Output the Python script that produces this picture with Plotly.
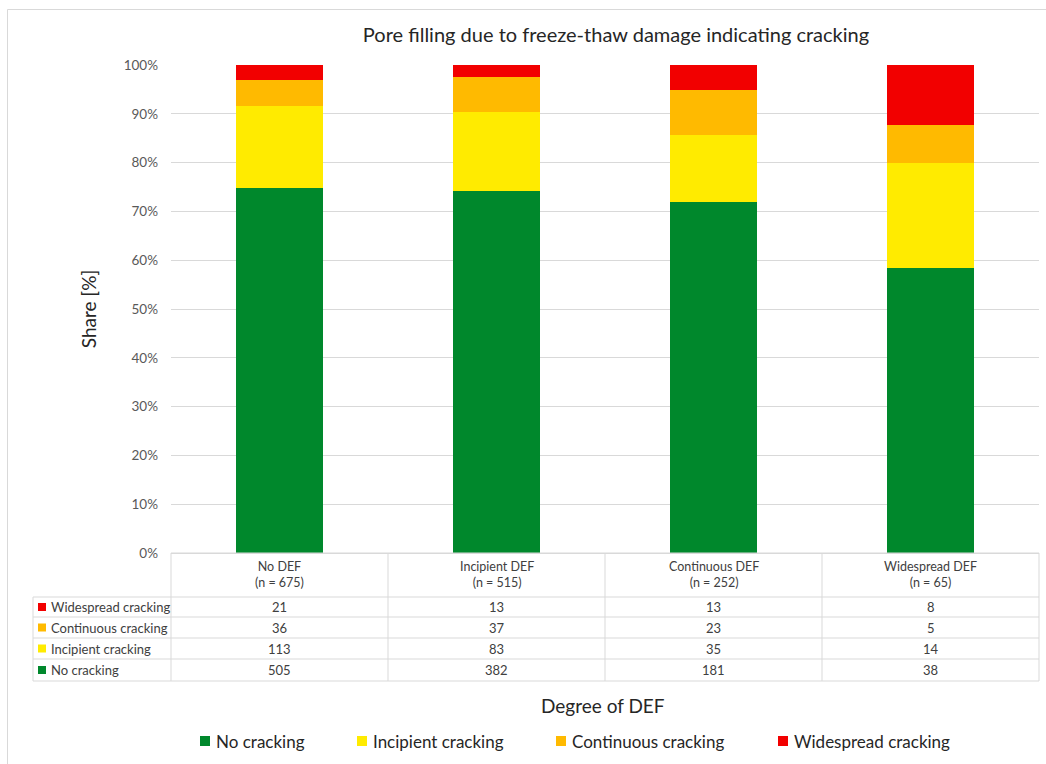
import plotly.graph_objects as go

categories = ["No DEF", "Incipient DEF", "Continuous DEF", "Widespread DEF"]
series_names = ["No cracking", "Incipient cracking", "Continuous cracking", "Widespread cracking"]
no_cracking = [505, 382, 181, 38]
incipient_cracking = [113, 83, 35, 14]
continuous_cracking = [36, 37, 23, 5]
widespread_cracking = [21, 13, 13, 8]
colors = ["#00882C", "#FFEB00", "#FFBA00", "#F20000"]
y_ticks = [0, 10, 20, 30, 40, 50, 60, 70, 80, 90, 100]
y_tick_labels = [f"{v}%" for v in y_ticks]

series_values = [no_cracking, incipient_cracking, continuous_cracking, widespread_cracking]
totals = [sum(v) for v in zip(*series_values)]

W, H = 1046, 764
L, R, T, B = 171, 7, 65, 211
PW = W - L - R
PH = H - T - B
FONT = "Lato"
GRID = "#d9d9d9"
DARK = "#262626"
TXT = "#404040"

def px2x(px):
    return (px - L) / PW

def py2y(py):
    return (H - B - py) / PH

fig = go.Figure()
for name, vals, col in zip(series_names, series_values, colors):
    fig.add_trace(go.Bar(x=categories, y=vals, name=name, marker=dict(color=col, line=dict(width=0)),
                         width=0.4, showlegend=False))

shapes = []
annotations = []

# chart border (cropped by the picture edge)
shapes.append(dict(type="rect", xref="paper", yref="paper", x0=px2x(7.5), x1=px2x(1060), y0=py2y(9.5), y1=py2y(780),
                   line=dict(color="#d9d9d9", width=1), fillcolor="rgba(0,0,0,0)", layer="below"))

# data table grid
col_edges = [171, 388, 605, 822, 1039]
row_edges = [553, 597, 617, 638, 659, 681]
tbl_left = 33
for i, ry in enumerate(row_edges):
    x0 = 171 if i == 0 else tbl_left
    shapes.append(dict(type="line", xref="paper", yref="paper", x0=px2x(x0), x1=px2x(1039),
                       y0=py2y(ry), y1=py2y(ry), line=dict(color=GRID, width=1)))
for cx in col_edges:
    shapes.append(dict(type="line", xref="paper", yref="paper", x0=px2x(cx), x1=px2x(cx),
                       y0=py2y(553), y1=py2y(681), line=dict(color=GRID, width=1)))
shapes.append(dict(type="line", xref="paper", yref="paper", x0=px2x(tbl_left), x1=px2x(tbl_left),
                   y0=py2y(597), y1=py2y(681), line=dict(color=GRID, width=1)))

for j, (cat, n) in enumerate(zip(categories, totals)):
    cxm = (col_edges[j] + col_edges[j + 1]) / 2
    annotations.append(dict(x=px2x(cxm), y=py2y(574), xref="paper", yref="paper",
                            xanchor="center", yanchor="middle",
                            text=f"{cat}<br>(n = {n})", showarrow=False,
                            font=dict(family=FONT, size=12.5, color=TXT), align="center"))

row_order = [3, 2, 1, 0]
for r, si in enumerate(row_order):
    ym = (row_edges[r + 1] + row_edges[r + 2]) / 2
    shapes.append(dict(type="rect", xref="paper", yref="paper", x0=px2x(38), x1=px2x(46),
                       y0=py2y(ym - 4), y1=py2y(ym + 4), fillcolor=colors[si], line=dict(width=0)))
    annotations.append(dict(x=px2x(49), y=py2y(ym), xref="paper", yref="paper",
                            xanchor="left", yanchor="middle",
                            text=series_names[si], showarrow=False,
                            font=dict(family=FONT, size=13, color=TXT)))
    for j in range(4):
        cxm = (col_edges[j] + col_edges[j + 1]) / 2
        annotations.append(dict(x=px2x(cxm), y=py2y(ym), xref="paper", yref="paper",
                                xanchor="center", yanchor="middle",
                                text=str(series_values[si][j]), showarrow=False,
                                font=dict(family=FONT, size=13, color=TXT)))

# x axis title
annotations.append(dict(x=px2x(603), y=py2y(706), xref="paper", yref="paper", text="Degree of DEF",
                        xanchor="center", yanchor="middle",
                        showarrow=False, font=dict(family=FONT, size=19, color=DARK)))

# legend (drawn as keys + text)
legend_x = [200, 357, 556, 778]
legend_y = 741
for si, lx in enumerate(legend_x):
    shapes.append(dict(type="rect", xref="paper", yref="paper", x0=px2x(lx), x1=px2x(lx + 10),
                       y0=py2y(legend_y - 5), y1=py2y(legend_y + 5), fillcolor=colors[si], line=dict(width=0)))
    annotations.append(dict(x=px2x(lx + 14), y=py2y(legend_y), xref="paper", yref="paper",
                            xanchor="left", yanchor="middle", text=series_names[si], showarrow=False,
                            font=dict(family=FONT, size=17, color=DARK)))

fig.update_layout(
    width=W, height=H,
    margin=dict(l=L, r=R, t=T, b=B, pad=0),
    paper_bgcolor="white", plot_bgcolor="white",
    barmode="stack", barnorm="percent",
    showlegend=False,
    title=dict(text="Pore filling due to freeze-thaw damage indicating cracking",
               x=px2x(616), xref="paper", xanchor="center", y=1 - 35 / H, yanchor="middle",
               font=dict(family=FONT, size=20, color=DARK)),
    font=dict(family=FONT),
    xaxis=dict(showticklabels=False, showgrid=False, linecolor=GRID, linewidth=1, showline=True,
               ticks="", range=[-0.5, 3.5]),
    yaxis=dict(range=[0, 100], tickmode="array", tickvals=y_ticks, ticktext=y_tick_labels,
               showgrid=True, gridcolor=GRID,
               gridwidth=1, zeroline=False, showline=False, ticklabelstandoff=12,
               tickfont=dict(family=FONT, size=13.5, color="#595959"),
               title=dict(text="Share [%]", standoff=22, font=dict(family=FONT, size=19, color=DARK))),
    shapes=shapes, annotations=annotations,
)

fig.write_html("out.html")
